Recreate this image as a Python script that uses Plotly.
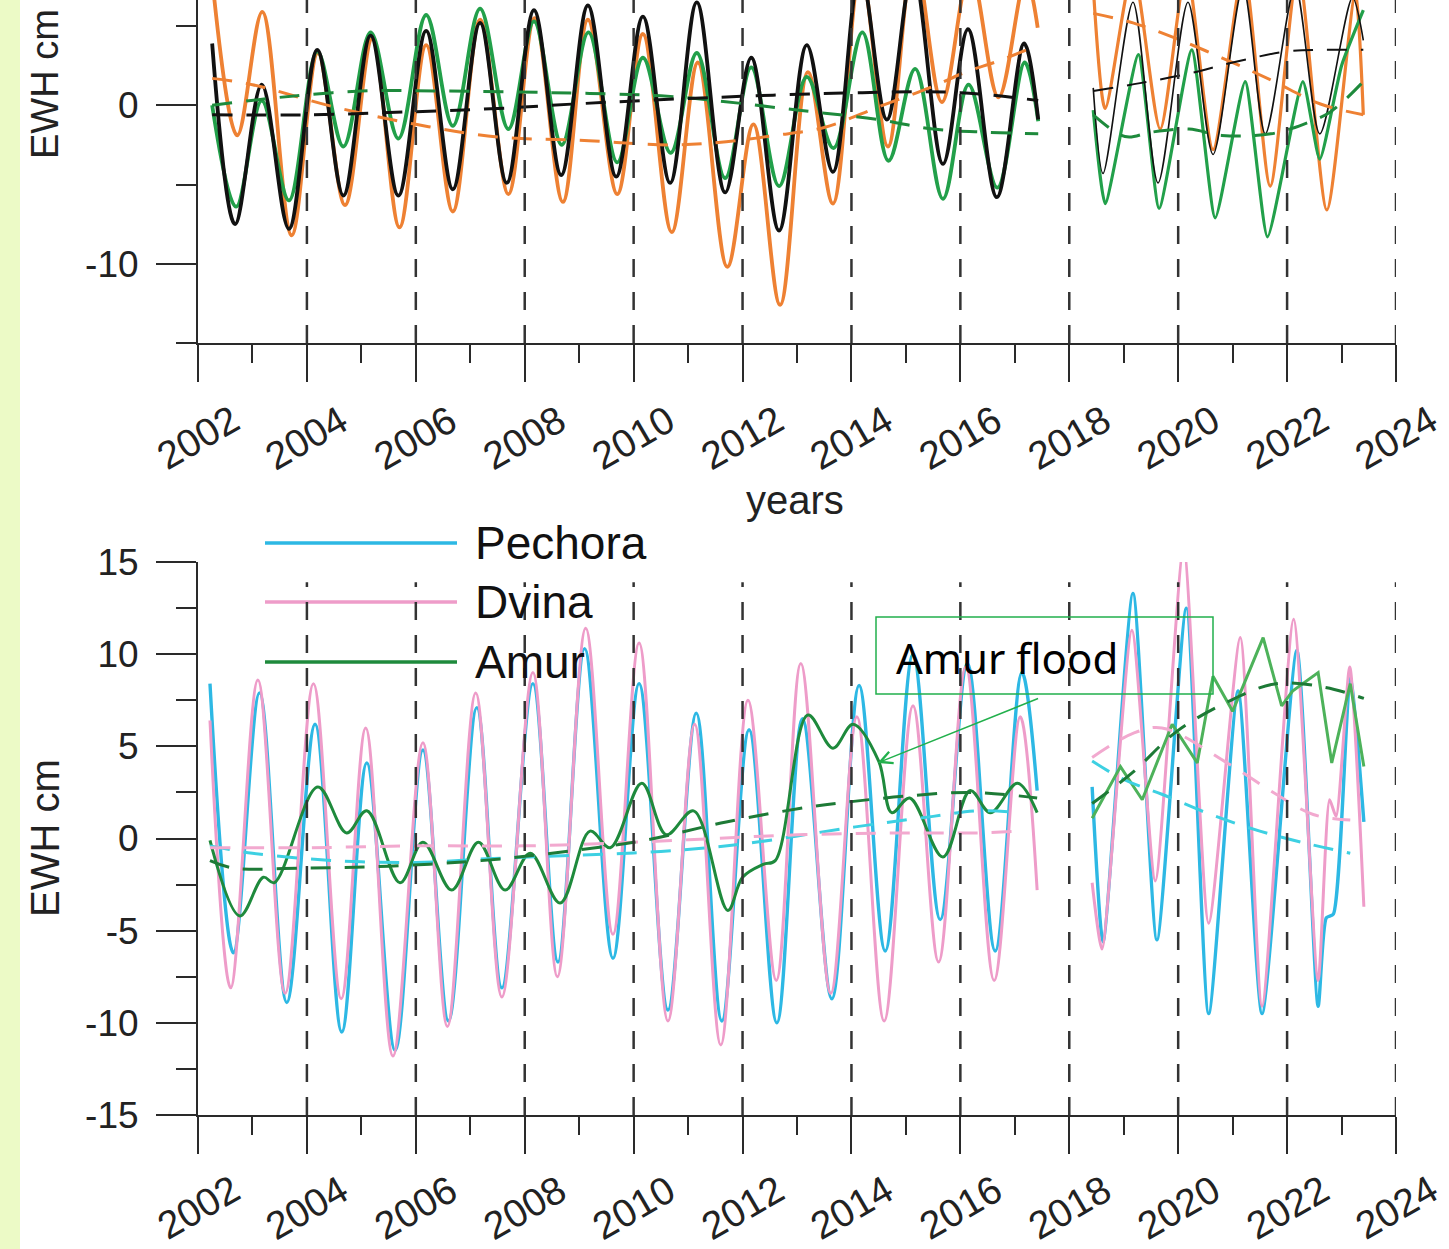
import plotly.graph_objects as go

# ================= DATA =================
# --- top panel (EWH cm) ---
black_x1 = [2002.26, 2002.68, 2003.17, 2003.67, 2004.19, 2004.67, 2005.17, 2005.68, 2006.19, 2006.68,
            2007.18, 2007.67, 2008.17, 2008.67, 2009.16, 2009.68, 2010.17, 2010.67, 2011.16, 2011.68,
            2012.16, 2012.67, 2013.18, 2013.66, 2014.16, 2014.65, 2015.13, 2015.68, 2016.14, 2016.67,
            2017.17, 2017.43]
black_v1 = [3.9, -7.5, 1.3, -7.8, 3.5, -5.7, 4.4, -5.7, 4.7, -5.3,
            5.2, -4.9, 6.0, -4.4, 6.3, -4.5, 5.6, -4.9, 6.5, -5.5,
            3.0, -7.9, 3.8, -4.2, 8.5, -0.9, 8.5, -3.7, 4.8, -5.8,
            3.9, -0.9]
black_x2 = [2018.44, 2018.62, 2019.17, 2019.63, 2020.18, 2020.64, 2021.19, 2021.6, 2022.15, 2022.6, 2023.2, 2023.4]
black_v2 = [1.1, -4.3, 6.5, -4.9, 6.5, -3.1, 7.5, -1.8, 7.5, -1.8, 6.8, 4.1]

orange_x1 = [2002.26, 2002.72, 2003.18, 2003.72, 2004.2, 2004.7, 2005.2, 2005.7, 2006.19, 2006.68,
             2007.18, 2007.7, 2008.18, 2008.7, 2009.16, 2009.7, 2010.17, 2010.7, 2011.18, 2011.72,
             2012.2, 2012.69, 2013.2, 2013.66, 2014.17, 2014.67, 2015.15, 2015.66, 2016.18, 2016.7,
             2017.2, 2017.42]
orange_v1 = [8.0, -1.9, 5.9, -8.2, 3.3, -6.3, 4.2, -7.7, 3.8, -6.7,
             5.4, -5.6, 5.5, -6.1, 5.4, -5.6, 4.5, -8.0, 2.7, -10.2,
             -1.2, -12.6, 2.1, -6.2, 8.5, -2.6, 9.5, 0.2, 8.5, 0.5,
             8.0, 4.9]
orange_x2 = [2018.44, 2018.66, 2019.17, 2019.67, 2020.15, 2020.64, 2021.2, 2021.69, 2022.2, 2022.73, 2023.25, 2023.4]
orange_v2 = [7.5, -0.2, 8.5, -1.5, 8.5, -2.8, 8.5, -5.1, 8.5, -6.6, 7.0, -0.6]

green_x1 = [2002.26, 2002.7, 2003.17, 2003.67, 2004.19, 2004.67, 2005.17, 2005.68, 2006.19, 2006.68,
            2007.18, 2007.7, 2008.17, 2008.68, 2009.17, 2009.7, 2010.17, 2010.68, 2011.16, 2011.68,
            2012.16, 2012.67, 2013.18, 2013.67, 2014.2, 2014.68, 2015.17, 2015.68, 2016.15, 2016.68,
            2017.18, 2017.43]
green_v1 = [0.0, -6.4, 0.3, -6.0, 3.4, -2.6, 4.6, -2.1, 5.7, -1.3,
            6.1, -1.5, 5.3, -2.5, 4.6, -3.6, 3.0, -3.0, 3.3, -4.6,
            2.4, -5.1, 1.8, -2.7, 4.6, -3.5, 2.3, -5.9, 1.3, -5.2,
            2.7, -1.0]
green_x2 = [2018.44, 2018.66, 2019.27, 2019.65, 2020.25, 2020.68, 2021.23, 2021.64, 2022.29, 2022.6, 2023.0, 2023.4]
green_v2 = [-0.3, -6.2, 3.2, -6.5, 3.5, -7.1, 1.5, -8.3, 1.5, -3.4, 2.5, 6.0]

blackd_x1 = [2002.26, 2004.0, 2006.0, 2007.5, 2009.0, 2011.5, 2014.2, 2016.0, 2017.43]
blackd_v1 = [-0.6, -0.6, -0.4, -0.2, 0.1, 0.5, 0.8, 0.8, 0.3]
blackd_x2 = [2018.44, 2019.3, 2020.2, 2021.0, 2022.0, 2022.7, 2023.4]
blackd_v2 = [0.9, 1.4, 2.0, 2.7, 3.4, 3.5, 3.5]

oranged_x1 = [2002.26, 2003.0, 2004.5, 2006.0, 2007.5, 2009.0, 2010.7, 2011.7, 2012.6, 2013.5,
              2014.5, 2015.5, 2016.1, 2016.7, 2017.43]
oranged_v1 = [1.7, 1.3, -0.1, -1.2, -2.0, -2.2, -2.5, -2.3, -1.9, -1.4,
              -0.1, 1.2, 2.1, 2.8, 3.8]
oranged_x2 = [2018.44, 2019.17, 2019.9, 2020.8, 2021.7, 2022.6, 2023.4]
oranged_v2 = [5.8, 5.2, 4.3, 3.0, 1.6, 0.1, -0.6]

greend_x1 = [2002.26, 2003.5, 2005.0, 2006.5, 2008.5, 2010.5, 2011.5, 2013.0, 2014.5, 2015.5, 2016.5, 2017.43]
greend_v1 = [0.0, 0.5, 0.9, 0.9, 0.8, 0.6, 0.3, -0.3, -0.9, -1.5, -1.7, -1.8]
greend_x2 = [2018.44, 2018.9, 2019.1, 2019.5, 2020.2, 2020.8, 2021.7, 2022.3, 2022.8, 2023.4]
greend_v2 = [-0.6, -1.8, -2.0, -1.7, -1.5, -1.9, -1.8, -1.2, -0.4, 1.5]

# --- bottom panel (EWH cm) ---
pech_x1 = [2002.22, 2002.65, 2003.13, 2003.63, 2004.15, 2004.64, 2005.1, 2005.62, 2006.13, 2006.6,
           2007.12, 2007.58, 2008.15, 2008.61, 2009.1, 2009.62, 2010.1, 2010.63, 2011.15, 2011.62,
           2012.12, 2012.63, 2013.1, 2013.64, 2014.14, 2014.62, 2015.13, 2015.63, 2016.13, 2016.64,
           2017.13, 2017.41]
pech_v1 = [8.4, -6.2, 7.9, -8.9, 6.2, -10.5, 4.1, -11.5, 4.8, -9.9,
           7.1, -8.1, 8.4, -6.7, 10.3, -6.5, 8.4, -9.3, 6.8, -9.9,
           5.9, -10.0, 6.5, -8.7, 8.3, -6.1, 10.0, -4.4, 9.5, -6.1,
           9.0, 2.6]
pech_x2 = [2018.42, 2018.62, 2019.17, 2019.61, 2020.15, 2020.56, 2021.1, 2021.54, 2022.18, 2022.57,
           2022.72, 2022.85, 2023.16, 2023.41]
pech_v2 = [2.8, -5.6, 13.3, -5.5, 12.5, -9.5, 8.0, -9.5, 10.2, -9.1,
           -4.3, -4.1, 8.7, 0.9]

dvina_x1 = [2002.22, 2002.6, 2003.1, 2003.6, 2004.12, 2004.63, 2005.08, 2005.58, 2006.13, 2006.58,
            2007.1, 2007.58, 2008.15, 2008.6, 2009.12, 2009.62, 2010.1, 2010.63, 2011.12, 2011.6,
            2012.1, 2012.62, 2013.07, 2013.62, 2014.1, 2014.6, 2015.13, 2015.6, 2016.1, 2016.62,
            2017.1, 2017.41]
dvina_v1 = [6.4, -8.1, 8.6, -8.4, 8.4, -8.7, 6.0, -11.8, 5.2, -10.2,
            7.9, -8.6, 9.0, -7.5, 11.4, -5.2, 10.6, -9.9, 6.2, -11.2,
            7.5, -7.7, 9.5, -8.4, 6.6, -9.9, 7.2, -6.7, 9.3, -7.7,
            6.6, -2.8]
dvina_x2 = [2018.42, 2018.6, 2019.15, 2019.58, 2020.1, 2020.56, 2021.14, 2021.54, 2022.12, 2022.57,
            2022.78, 2022.9, 2023.15, 2023.41]
dvina_v2 = [-2.4, -6.0, 11.3, -2.3, 15.8, -4.6, 10.9, -9.1, 11.9, -7.7,
            2.1, 1.2, 9.3, -3.7]

amur_x1 = [2002.22, 2002.77, 2003.2, 2003.4, 2004.2, 2004.73, 2005.1, 2005.71, 2006.13, 2006.66,
           2007.15, 2007.64, 2008.1, 2008.65, 2009.2, 2009.57, 2010.15, 2010.6, 2011.1, 2011.73,
           2012.0, 2012.38, 2012.6, 2013.2, 2013.66, 2014.03, 2014.5, 2014.74, 2015.07, 2015.68,
           2016.18, 2016.55, 2017.05, 2017.41]
amur_v1 = [-0.1, -4.2, -2.1, -2.4, 2.8, 0.3, 1.5, -2.4, -0.2, -2.8,
           -0.2, -2.8, -0.8, -3.5, 0.4, -0.5, 3.0, 0.2, 1.5, -3.9,
           -2.1, -1.4, -1.2, 6.7, 4.9, 6.2, 4.2, 1.4, 2.2, -1.0,
           2.6, 1.4, 3.0, 1.4]
amur_x2 = [2018.42, 2018.94, 2019.34, 2019.89, 2020.35, 2020.64, 2021.0, 2021.56, 2021.9, 2022.1,
           2022.57, 2022.82, 2023.16, 2023.41]
amur_v2 = [1.1, 3.9, 2.1, 6.2, 4.1, 8.8, 6.9, 10.9, 7.2, 8.0,
           9.0, 4.1, 8.4, 3.9]

amurd_x1 = [2002.22, 2002.65, 2004.0, 2005.5, 2007.2, 2008.5, 2010.2, 2011.7, 2013.2, 2014.0, 2015.0, 2016.2, 2017.41]
amurd_v1 = [-1.2, -1.6, -1.6, -1.5, -1.2, -0.8, -0.1, 0.9, 1.7, 2.0, 2.3, 2.5, 2.2]
amurd_x2 = [2018.42, 2019.17, 2019.97, 2020.9, 2021.8, 2022.7, 2023.41]
amurd_v2 = [1.9, 3.6, 5.8, 7.4, 8.4, 8.2, 7.6]

pechd_x1 = [2002.22, 2003.0, 2004.5, 2006.0, 2007.3, 2009.0, 2010.5, 2012.0, 2014.0, 2015.5, 2016.3, 2017.1]
pechd_v1 = [-0.4, -0.8, -1.2, -1.3, -1.1, -0.9, -0.7, -0.3, 0.6, 1.2, 1.5, 1.4]
pechd_x2 = [2018.42, 2019.0, 2019.7, 2020.6, 2021.5, 2022.4, 2023.16]
pechd_v2 = [4.2, 3.2, 2.4, 1.3, 0.4, -0.3, -0.8]

dvinad_x1 = [2002.22, 2004.0, 2006.0, 2008.0, 2010.0, 2011.5, 2013.0, 2015.0, 2016.3, 2017.1]
dvinad_v1 = [-0.5, -0.5, -0.4, -0.4, -0.2, 0.0, 0.2, 0.3, 0.3, 0.4]
dvinad_x2 = [2018.42, 2019.17, 2019.7, 2020.9, 2021.8, 2022.48, 2023.16]
dvinad_v2 = [4.4, 5.7, 6.0, 4.1, 2.4, 1.3, 1.0]

# axis ticks / labels
year_ticks = [2002, 2004, 2006, 2008, 2010, 2012, 2014, 2016, 2018, 2020, 2022, 2024]
year_labels = [str(y) for y in year_ticks]
dashed_years = year_ticks[1:]
top_yticks = [-10, 0]
top_ylabels = ["-10", "0"]
bot_yticks = [-15, -10, -5, 0, 5, 10, 15]
bot_ylabels = ["-15", "-10", "-5", "0", "5", "10", "15"]
bot_yminor = [-12.5, -7.5, -2.5, 2.5, 7.5, 12.5]
legend_names = ["Pechora", "Dvina", "Amur"]

# ================= STYLE =================
FONT = "Liberation Sans, Arial, sans-serif"
C_ORANGE = "#EE8133"
C_BLACK = "#111111"
C_GREEN = "#22A04A"
C_PECH = "#2DB8E4"
C_DVINA = "#EE9CC9"
C_AMUR = "#1E8A3C"
C_AMUR2 = "#4DB25A"
C_PECHD = "#3DD0E2"
C_DVINAD = "#F2A9CF"
C_AMURD = "#1D7A36"
AX = "#2a2a2a"

W, H = 1449, 1249
ML, MR, MT, MB = 198, 53, 0, 134
PW = W - ML - MR
PH = H - MT - MB
TOP_BOTTOM_PX = 343
BOT_TOP_PX = 562


def py(px):  # pixel y (from top) -> paper y
    return (PH - (px - MT)) / PH


def pxx(px):  # pixel x -> paper x
    return (px - ML) / PW


fig = go.Figure()


def add(xs, ys, color, width, panel, dash="solid", shape="spline", smooth=1.0):
    line = dict(color=color, width=width, dash=dash, shape=shape)
    if shape == "spline":
        line["smoothing"] = smooth
    fig.add_trace(go.Scatter(
        x=xs, y=ys, mode="lines", line=line,
        xaxis="x" if panel == 1 else "x2", yaxis="y" if panel == 1 else "y2",
        showlegend=False, hoverinfo="skip"))


DASH = "20px,14px"
# top panel
add(orange_x1, orange_v1, C_ORANGE, 3.8, 1)
add(orange_x2, orange_v2, C_ORANGE, 3.2, 1, smooth=0.7)
add(green_x1, green_v1, C_GREEN, 3.8, 1)
add(green_x2, green_v2, C_GREEN, 3.2, 1, smooth=0.5)
add(black_x1, black_v1, C_BLACK, 3.8, 1)
add(black_x2, black_v2, C_BLACK, 1.6, 1, smooth=0.8)
add(oranged_x1, oranged_v1, C_ORANGE, 3, 1, dash=DASH)
add(oranged_x2, oranged_v2, C_ORANGE, 3, 1, dash=DASH)
add(greend_x1, greend_v1, C_AMUR, 3, 1, dash=DASH)
add(greend_x2, greend_v2, C_AMUR, 3, 1, dash=DASH)
add(blackd_x1, blackd_v1, C_BLACK, 3, 1, dash=DASH)
add(blackd_x2, blackd_v2, C_BLACK, 2, 1, dash=DASH)

# bottom panel
add(pech_x1, pech_v1, C_PECH, 3.4, 2)
add(pech_x2, pech_v2, C_PECH, 3.4, 2, smooth=0.6)
add(dvina_x1, dvina_v1, C_DVINA, 3.0, 2)
add(dvina_x2, dvina_v2, C_DVINA, 3.0, 2, smooth=0.6)
add(amur_x1, amur_v1, C_AMUR, 3.0, 2)
add(amur_x2, amur_v2, C_AMUR2, 3.0, 2, shape="linear")
add(pechd_x1, pechd_v1, C_PECHD, 3, 2, dash=DASH)
add(pechd_x2, pechd_v2, C_PECHD, 3, 2, dash=DASH)
add(dvinad_x1, dvinad_v1, C_DVINAD, 3, 2, dash=DASH)
add(dvinad_x2, dvinad_v2, C_DVINAD, 3, 2, dash=DASH)
add(amurd_x1, amurd_v1, C_AMURD, 3, 2, dash=DASH)
add(amurd_x2, amurd_v2, C_AMURD, 3, 2, dash=DASH)

top_v_max = 105 / 15.8
xcommon = dict(range=[2002, 2024], showgrid=False, zeroline=False, showline=True, automargin=False,
               linecolor=AX, linewidth=2, ticks="outside", ticklen=37, tickwidth=2,
               tickcolor=AX, tickmode="array", tickvals=year_ticks, showticklabels=False,
               minor=dict(tickmode="linear", tick0=2003, dtick=2, ticks="outside", ticklen=18,
                          tickwidth=2, tickcolor=AX, showgrid=False))
ycommon = dict(showgrid=False, zeroline=False, showline=True, linecolor=AX, linewidth=2,
               automargin=False, ticks="outside", ticklen=40, tickwidth=2, tickcolor=AX,
               tickfont=dict(family=FONT, size=37, color="#222"), ticklabelstandoff=10)

fig.update_layout(
    width=W, height=H, autosize=False,
    margin=dict(l=ML, r=MR, t=MT, b=MB, pad=0, autoexpand=False),
    paper_bgcolor="white", plot_bgcolor="white",
    font=dict(family=FONT, color="#222"),
    xaxis=dict(domain=[0, 1], anchor="y", **xcommon),
    yaxis=dict(domain=[py(TOP_BOTTOM_PX), 1.0], anchor="x", range=[-15, top_v_max],
               tickmode="array", tickvals=top_yticks, ticktext=top_ylabels,
               minor=dict(tickmode="linear", tick0=-15, dtick=10, ticks="outside", ticklen=20,
                          tickwidth=2, tickcolor=AX, showgrid=False),
               **ycommon),
    xaxis2=dict(domain=[0, 1], anchor="y2", **xcommon),
    yaxis2=dict(domain=[0, py(BOT_TOP_PX)], anchor="x2", range=[-15, 15],
                tickmode="array", tickvals=bot_yticks, ticktext=bot_ylabels,
                minor=dict(tickmode="array", tickvals=bot_yminor, ticks="outside", ticklen=20,
                           tickwidth=2, tickcolor=AX, showgrid=False),
                **ycommon),
)

shapes = []
# left colored strip
shapes.append(dict(type="rect", xref="paper", yref="paper", x0=pxx(0), x1=pxx(20),
                   y0=py(H + 5), y1=py(-5), fillcolor="#ECFAC6", line=dict(width=0), layer="below"))
# vertical dashed year lines
for yr in dashed_years:
    shapes.append(dict(type="line", xref="x", yref="y domain", x0=yr, x1=yr, y0=0, y1=1,
                       line=dict(color="#333", width=2.5, dash="18px,15px"), layer="above"))
    shapes.append(dict(type="line", xref="x2", yref="y2", x0=yr, x1=yr, y0=-15, y1=13.9,
                       line=dict(color="#333", width=2.5, dash="18px,15px"), layer="above"))
# legend lines
leg_colors = [C_PECH, C_DVINA, C_AMUR]
leg_y = [543, 602, 662]
for c, yy in zip(leg_colors, leg_y):
    shapes.append(dict(type="line", xref="paper", yref="paper", x0=pxx(265), x1=pxx(457),
                       y0=py(yy), y1=py(yy), line=dict(color=c, width=3.5), layer="below"))
# annotation box
shapes.append(dict(type="rect", xref="paper", yref="paper", x0=pxx(876), x1=pxx(1213),
                   y0=py(694), y1=py(617), line=dict(color="#22B04C", width=1.5),
                   fillcolor="rgba(0,0,0,0)", layer="above"))
fig.update_layout(shapes=shapes)

ann = []
for yr, lab in zip(year_ticks, year_labels):
    ann.append(dict(x=yr, xref="x", y=py(438), yref="paper", text=lab, showarrow=False,
                    textangle=-30, font=dict(family=FONT, size=39, color="#222"),
                    xanchor="center", yanchor="middle"))
    ann.append(dict(x=yr, xref="x2", y=py(1207), yref="paper", text=lab, showarrow=False,
                    textangle=-30, font=dict(family=FONT, size=39, color="#222"),
                    xanchor="center", yanchor="middle"))
ann.append(dict(x=pxx(795), xref="paper", y=py(500), yref="paper", text="years", showarrow=False,
                font=dict(family=FONT, size=40, color="#222"), xanchor="center", yanchor="middle"))
ann.append(dict(x=pxx(45), xref="paper", y=py(84), yref="paper", text="EWH cm", showarrow=False,
                textangle=-90, font=dict(family=FONT, size=38, color="#222"),
                xanchor="center", yanchor="middle"))
ann.append(dict(x=pxx(45), xref="paper", y=py(838), yref="paper", text="EWH cm", showarrow=False,
                textangle=-90, font=dict(family=FONT, size=40, color="#222"),
                xanchor="center", yanchor="middle"))
for name, yy in zip(legend_names, leg_y):
    ann.append(dict(x=pxx(473), xref="paper", y=py(yy), yref="paper", text=name, showarrow=False,
                    font=dict(family=FONT, size=46, color="#111"), xanchor="left", yanchor="middle"))
ann.append(dict(x=pxx(894), xref="paper", y=py(657), yref="paper", text="Amur flood",
                showarrow=False, font=dict(family="Noto Sans, Liberation Sans, sans-serif", size=42, color="#000"),
                xanchor="left", yanchor="middle"))
ann.append(dict(x=2014.48, xref="x2", y=4.1, yref="y2", text="", showarrow=True,
                ax=162, ay=-65, axref="pixel", ayref="pixel", arrowhead=5, arrowsize=1.6,
                arrowwidth=1.5, arrowcolor="#22B04C", standoff=0, startstandoff=0))
fig.update_layout(annotations=ann)

fig.write_html("out.html", config={"displayModeBar": False},
               post_script="document.body.style.margin='0';document.body.style.overflow='hidden';")
